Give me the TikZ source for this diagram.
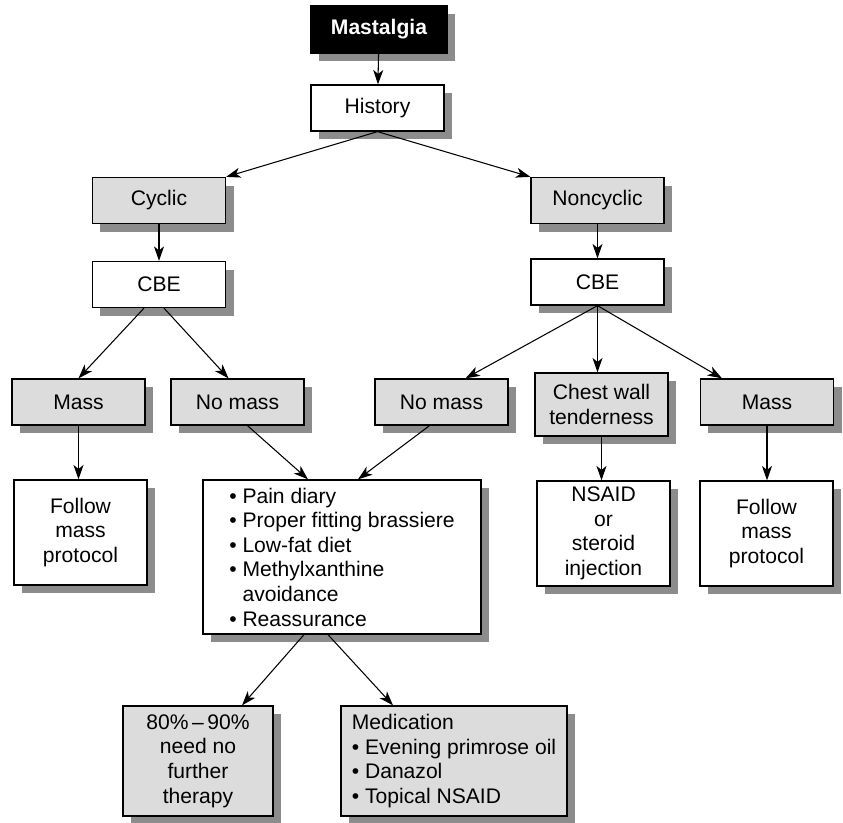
\documentclass[tikz,border=0pt]{standalone}
\usepackage{fontspec}
\setmainfont{Liberation Sans}
\usetikzlibrary{arrows.meta,shadows,calc}
\definecolor{boxgrey}{HTML}{DCDCDC}
\definecolor{shadowgrey}{HTML}{8C8C8C}
\tikzset{
    block/.style={
        draw,
        line width=0.9pt,
        fill=white,
        align=center,
        inner sep=2pt,
        minimum width=3.325cm,
        minimum height=1.15cm,
        font=\fontsize{15}{17.5}\selectfont,
        drop shadow={shadow xshift=0.2cm, shadow yshift=-0.2cm, fill=shadowgrey, opacity=1}
    },
    greyblock/.style={
        block,
        fill=boxgrey
    },
    startblock/.style={
        block,
        fill=black,
        text=white,
        font=\fontsize{15}{17.5}\selectfont\bfseries
    },
    line/.style={
        -{Stealth[length=0.36cm,width=0.25cm,inset=0.1cm]},
        line width=0.75pt
    }
}
\begin{document}
\begin{tikzpicture}[x=0.025cm, y=-0.025cm]

    \useasboundingbox (0,0) rectangle (843,823);

    \node[startblock, minimum width=3.4cm, minimum height=1.175cm] (mastalgia) at (379,29.5) {Mastalgia};
    \node[block] (history) at (377.5,108) {History};

    \node[greyblock] (cyclic) at (159,200.5) {Cyclic};
    \node[greyblock] (noncyclic) at (597.5,200.5) {Noncyclic};
    \node[block] (cbeL) at (159,284.5) {CBE};
    \node[block] (cbeR) at (597.5,282) {CBE};

    \node[greyblock] (massL) at (78.5,402) {Mass};
    \node[greyblock] (nomassL) at (237.5,402) {No mass};
    \node[greyblock] (nomassR) at (441.5,402) {No mass};
    \node[greyblock, minimum height=1.575cm] (chest) at (601.5,404.5) {Chest wall\\tenderness};
    \node[greyblock] (massR) at (767,402) {Mass};

    \node[block, minimum height=2.625cm] (followL) at (80.5,532.5) {Follow\\mass\\protocol};
    \node[block, minimum width=6.95cm, minimum height=3.85cm, align=left] (advice) at (342,557)
        {• Pain diary\\• Proper fitting brassiere\\• Low-fat diet\\• Methylxanthine\\\phantom{• }avoidance\\• Reassurance};
    \node[block, minimum height=2.625cm] (nsaid) at (603.5,533.5) {NSAID\\or\\steroid\\injection};
    \node[block, minimum height=2.625cm] (followR) at (766.5,533.5) {Follow\\mass\\protocol};

    \node[greyblock, minimum width=3.75cm, minimum height=2.75cm] (nofurther) at (198,761)
        {80\%\,–\,90\%\\need no\\further\\therapy};
    \node[greyblock, minimum width=5.65cm, minimum height=2.75cm, align=left] (medication) at (454,761)
        {Medication\\• Evening primrose oil\\• Danazol\\• Topical NSAID};

    \draw[line] (mastalgia) -- (history);
    \draw[line] (history.south) -- (cyclic.north east);
    \draw[line] (history.south) -- (noncyclic.north west);
    \draw[line] (cyclic) -- (cbeL);
    \draw[line] (noncyclic) -- (cbeR);

    \draw[line] ($(cbeL.south)+(-15,0)$) -- (massL.north);
    \draw[line] ($(cbeL.south)+(5,0)$) -- ($(nomassL.north)+(-9,0)$);
    \draw[line] (cbeR.south) -- ($(nomassR.north)+(24,0)$);
    \draw[line] (cbeR.south) -- (cbeR.south |- chest.north);
    \draw[line] (cbeR.south) -- ($(massR.north)+(-45,0)$);

    \draw[line] (massL) -- (massL |- followL.north);
    \draw[line] (chest) -- (chest |- nsaid.north);
    \draw[line] (massR) -- (massR |- followR.north);
    \draw[line] ($(nomassL.south)+(10,0)$) -- ($(advice.north)+(-34,0)$);
    \draw[line] ($(nomassR.south)+(-12,0)$) -- ($(advice.north)+(16,0)$);

    \draw[line] ($(advice.south)+(-38,0)$) -- ($(nofurther.north)+(44,0)$);
    \draw[line] ($(advice.south)+(-14,0)$) -- ($(medication.north)+(-61,0)$);

\end{tikzpicture}
\end{document}
